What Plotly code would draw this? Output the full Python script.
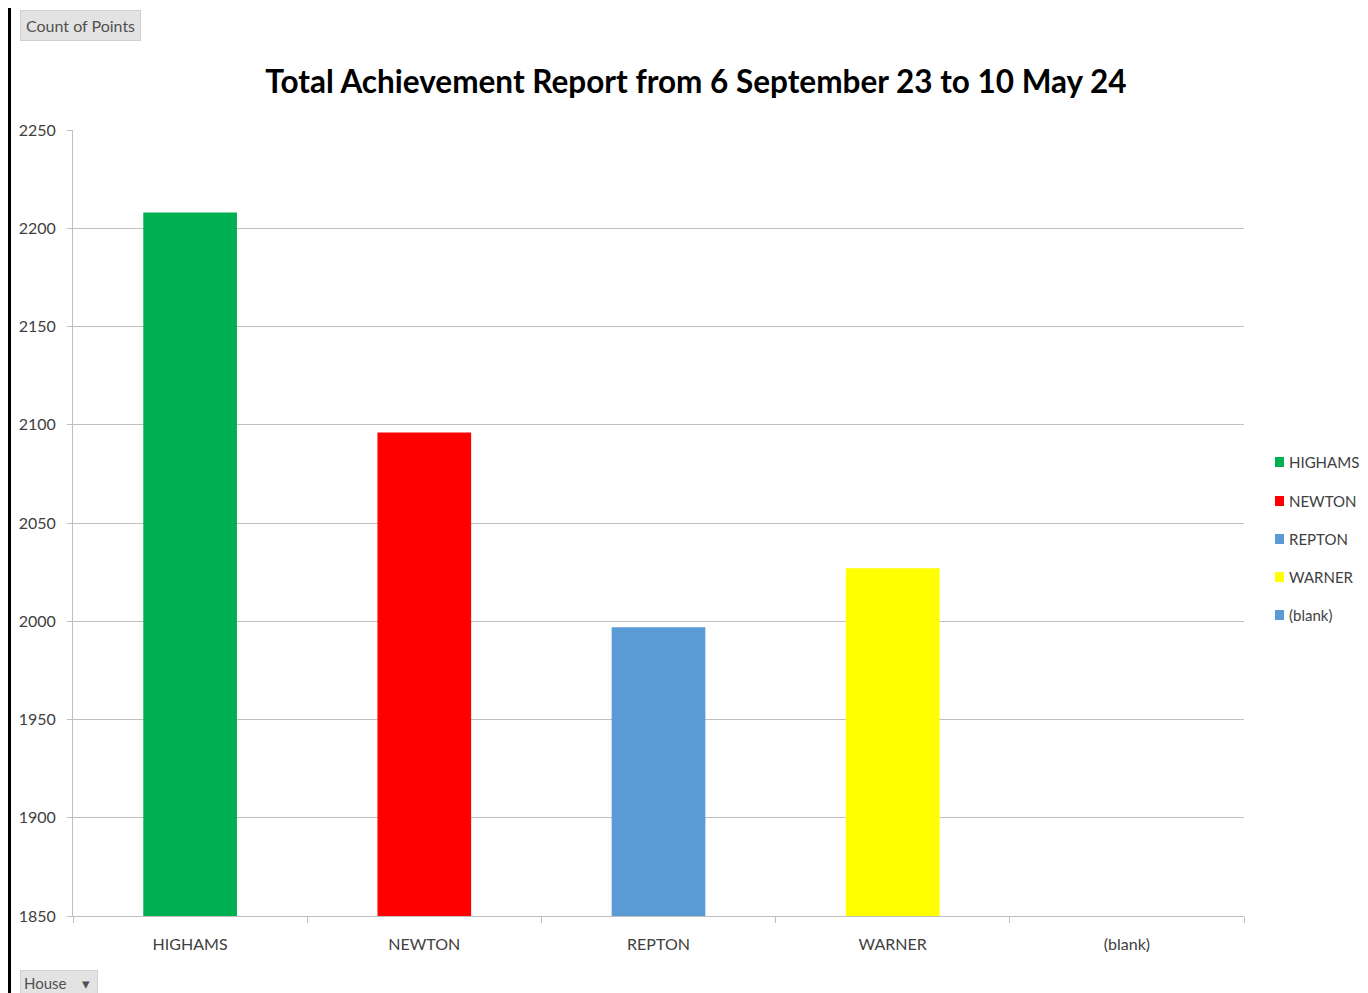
import plotly.graph_objects as go

categories = ["HIGHAMS", "NEWTON", "REPTON", "WARNER", "(blank)"]
points = [2208, 2096, 1997, 2027, None]
colors = ["#00B050", "#FF0000", "#5B9BD5", "#FFFF00", "#5B9BD5"]
y_ticks = [1850, 1900, 1950, 2000, 2050, 2100, 2150, 2200, 2250]

W, H = 1368, 993
OFF = 8  # page body margin offset
L, R, T, B = 73 - OFF, 1244 - OFF, 130 - OFF, 916 - OFF
FONT = "Lato, 'Open Sans', sans-serif"


def px(x):
    return (x - OFF - L) / (R - L)


def py(y):
    return (B - (y - OFF)) / (B - T)


fig = go.Figure()
for cat, val, col in zip(categories, points, colors):
    fig.add_trace(go.Bar(x=[cat], y=[val], name=cat, marker=dict(color=col, line=dict(width=0)),
                         width=0.4, showlegend=False))

shapes = []
annotations = []
# custom legend
leg_y = [462, 501, 539, 577, 615]
for cat, col, yy in zip(categories, colors, leg_y):
    shapes.append(dict(type="rect", xref="paper", yref="paper",
                       x0=px(1275), x1=px(1284), y0=py(yy + 5), y1=py(yy - 5),
                       fillcolor=col, line=dict(width=0)))
    annotations.append(dict(xref="paper", yref="paper", x=px(1287), y=py(yy), text=cat,
                            showarrow=False, xanchor="left", yanchor="middle",
                            font=dict(family=FONT, size=15, color="#404040")))

# left black border (as far left as the page allows)
shapes.append(dict(type="line", xref="paper", yref="paper", x0=px(OFF + 1.5), x1=px(OFF + 1.5),
                   y0=py(OFF), y1=py(1001),
                   line=dict(color="black", width=3)))

# field buttons
annotations.append(dict(xref="paper", yref="paper", x=px(20), y=py(26), text="Count of Points",
                        showarrow=False, xanchor="left", yanchor="middle",
                        font=dict(family=FONT, size=16, color="#505050"),
                        bgcolor="#E3E3E3", bordercolor="#D0D0D0", borderwidth=1, borderpad=5))
annotations.append(dict(xref="paper", yref="paper", x=px(20), y=py(983), text="House    \u25BE ",
                        showarrow=False, xanchor="left", yanchor="middle",
                        font=dict(family=FONT, size=15, color="#505050"),
                        bgcolor="#E3E3E3", bordercolor="#D0D0D0", borderwidth=1, borderpad=3))

fig.update_layout(
    width=W, height=H,
    margin=dict(l=L, r=W - R, t=T, b=H - B, pad=0),
    paper_bgcolor="white", plot_bgcolor="white",
    barmode="overlay",
    title=dict(text="<b>Total Achievement Report from 6 September 23 to 10 May 24</b>",
               xref="container", x=(696 - OFF) / W, xanchor="center",
               yref="container", y=1 - (82 - OFF) / H, yanchor="middle",
               font=dict(family=FONT, size=31.5, color="black")),
    shapes=shapes, annotations=annotations,
    showlegend=False,
)
fig.update_xaxes(categoryorder="array", categoryarray=categories,
                 showline=True, linecolor="#BFBFBF", linewidth=1,
                 ticks="outside", tickson="boundaries", ticklen=6, tickcolor="#BFBFBF",
                 showgrid=False, ticklabelstandoff=14,
                 tickfont=dict(family=FONT, size=16, color="#404040"))
fig.update_yaxes(range=[1850, 2250], tickvals=y_ticks,
                 showline=True, linecolor="#BFBFBF", linewidth=1,
                 ticks="outside", ticklen=5, tickcolor="#BFBFBF",
                 showgrid=True, gridcolor="#BFBFBF", gridwidth=1, zeroline=False,
                 ticklabelstandoff=8,
                 tickfont=dict(family=FONT, size=16, color="#404040"))

fig.write_html("out.html")
